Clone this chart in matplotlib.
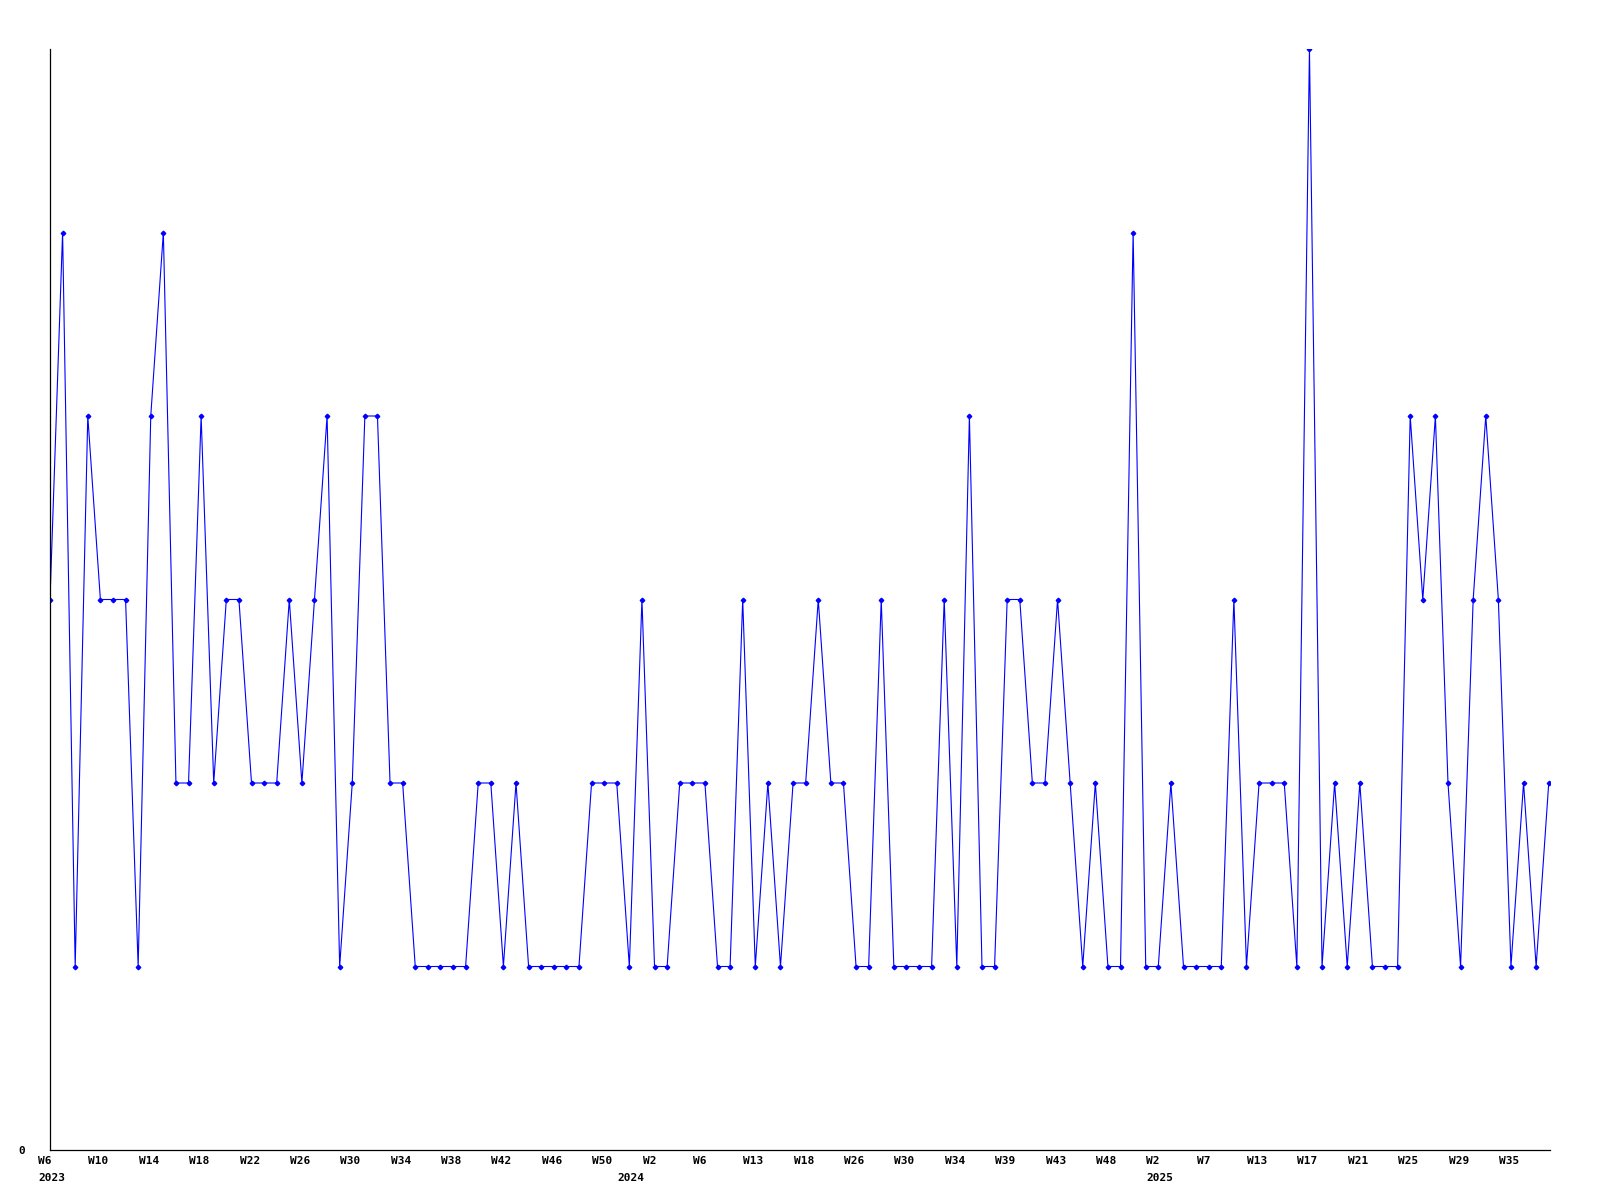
import matplotlib
matplotlib.use("Agg")
import matplotlib.pyplot as plt
import matplotlib.transforms as mtransforms

# weekly values, one per point (index order)
values = [3, 5, 1, 4, 3, 3, 3, 1, 4, 5,
          2, 2, 4, 2, 3, 3, 2, 2, 2, 3,
          2, 3, 4, 1, 2, 4, 4, 2, 2, 1,
          1, 1, 1, 1, 2, 2, 1, 2, 1, 1,
          1, 1, 1, 2, 2, 2, 1, 3, 1, 1,
          2, 2, 2, 1, 1, 3, 1, 2, 1, 2,
          2, 3, 2, 2, 1, 1, 3, 1, 1, 1,
          1, 3, 1, 4, 1, 1, 3, 3, 2, 2,
          3, 2, 1, 2, 1, 1, 5, 1, 1, 2,
          1, 1, 1, 1, 3, 1, 2, 2, 2, 1,
          6, 1, 2, 1, 2, 1, 1, 1, 4, 3,
          4, 2, 1, 3, 4, 3, 1, 2, 1, 2]

# a week label on every 4th point
week_labels = ["W6", "W10", "W14", "W18", "W22", "W26", "W30", "W34", "W38", "W42",
               "W46", "W50", "W2", "W6", "W13", "W18", "W26", "W30", "W34", "W39",
               "W43", "W48", "W2", "W7", "W13", "W17", "W21", "W25", "W29", "W35"]
years = ["2023", "2024", "2025"]
year_index = [0, 46, 88]

x = list(range(len(values)))

fig = plt.figure(figsize=(16, 12), dpi=100)
ax = fig.add_axes([50 / 1600, 50 / 1200, 1500 / 1600, 1101 / 1200])

ax.plot(x, values, color="#0000ff", linewidth=0.8, marker="D", markersize=2.3,
        markerfacecolor="#0000ff", markeredgecolor="#0000ff")

ax.set_xlim(0, len(values) - 0.9)
ax.set_ylim(0, 6)

for side in ["top", "right"]:
    ax.spines[side].set_visible(False)
for side in ["left", "bottom"]:
    ax.spines[side].set_color("black")
    ax.spines[side].set_linewidth(0.9)

font = dict(family="DejaVu Sans Mono", weight="bold", size=8)

ax.set_yticks([0])
ax.set_yticklabels(["0"], **font)
ax.tick_params(axis="y", length=0, pad=18)

shift = mtransforms.ScaledTranslation(-12 / 100, 0, fig.dpi_scale_trans)
ax.set_xticks(x[::4])
ax.set_xticklabels(week_labels, **font)
ax.tick_params(axis="x", length=0, pad=4)
for lab in ax.get_xticklabels():
    lab.set_horizontalalignment("left")
    lab.set_transform(lab.get_transform() + shift)

trans = mtransforms.blended_transform_factory(ax.transData, ax.transAxes) + shift
for yr, i in zip(years, year_index):
    ax.text(i, -0.0208, yr, transform=trans, ha="left", va="top", **font)

fig.savefig("out.png", dpi=100)
